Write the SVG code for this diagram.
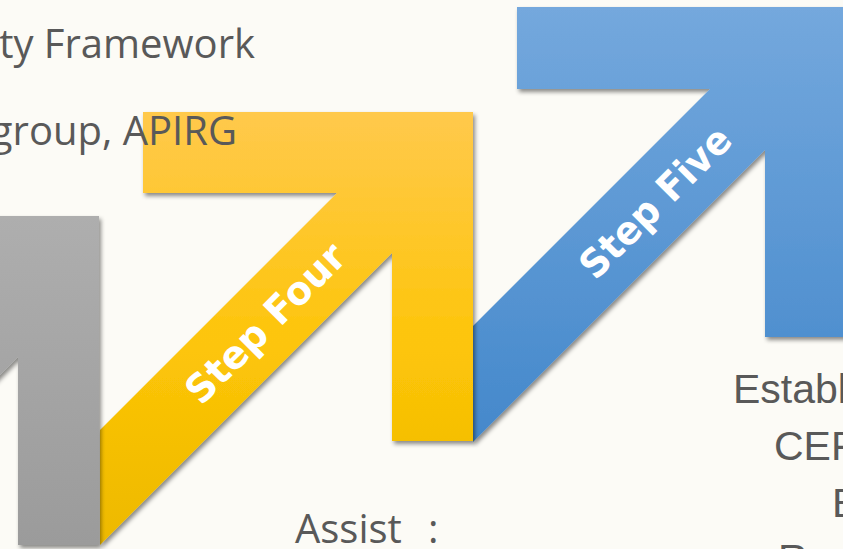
<svg xmlns="http://www.w3.org/2000/svg" width="843" height="549" viewBox="0 0 843 549">
  <defs>
    <linearGradient id="gradGray" x1="0" y1="0" x2="0" y2="1">
      <stop offset="0" stop-color="#AEAEAE"/>
      <stop offset="1" stop-color="#959595"/>
    </linearGradient>
    <linearGradient id="gradYellow" x1="0" y1="0" x2="0" y2="1">
      <stop offset="0" stop-color="#FFC94C"/>
      <stop offset="0.55" stop-color="#FDC508"/>
      <stop offset="1" stop-color="#EDB900"/>
    </linearGradient>
    <linearGradient id="gradBlue" x1="0" y1="0" x2="0" y2="1">
      <stop offset="0" stop-color="#74A8DD"/>
      <stop offset="1" stop-color="#4488CB"/>
    </linearGradient>
    <filter id="shadow" x="-10%" y="-10%" width="130%" height="130%">
      <feDropShadow dx="2" dy="3" stdDeviation="2.2" flood-color="#000" flood-opacity="0.45"/>
    </filter>
  </defs>
  <style>
    .bg { fill: #FCFBF6; }
    .step { filter: url(#shadow); }
    .label { font-family: "DejaVu Sans", "Open Sans", sans-serif; font-weight: 700; font-size: 39px; fill: #FFFFFF; text-anchor: middle; }
    .body { font-family: "Open Sans", "Noto Sans", sans-serif; font-size: 40px; fill: #595959; }
    .bodyR { font-family: "Liberation Sans", Arial, sans-serif; font-size: 41px; fill: #595959; }
  </style>

  <rect class="bg" x="0" y="0" width="843" height="549"/>

  <!-- step arrows, drawn back to front so each shadow falls on the next -->
  <g id="step-five">
    <path class="step" fill="url(#gradBlue)" d="M473,442 L473,326 L710,89 L517,89 L517,7 L860,7 L860,337 L765,337 L765,150 Z"/>
    <text class="label" transform="translate(655,202) rotate(-45)" x="0" y="14" textLength="196" lengthAdjust="spacingAndGlyphs">Step Five</text>
  </g>

  <g id="step-four">
    <path class="step" fill="url(#gradYellow)" d="M100,545 L100,430 L337,193 L143,193 L143,112 L473,112 L473,441 L392,441 L392,253 Z"/>
    <text class="label" transform="translate(265,323) rotate(-45)" x="0" y="14" textLength="208" lengthAdjust="spacingAndGlyphs">Step Four</text>
  </g>

  <g id="step-three">
    <path class="step" fill="url(#gradGray)" d="M-274,649 L-274,534 L-37,297 L-231,297 L-231,216 L99,216 L99,545 L18,545 L18,357 Z"/>
  </g>

  <!-- surrounding text -->
  <g id="text-left">
    <text class="body" x="255" y="58" text-anchor="end">ty Framework</text>
    <text class="body" x="237" y="145" text-anchor="end">group, APIRG</text>
  </g>
  <g id="text-assist">
    <text class="body" x="295" y="543">Assist</text>
    <text class="body" x="428" y="543">:</text>
  </g>
  <g id="text-right">
    <text class="bodyR" x="733" y="403">Establ</text>
    <text class="bodyR" x="774" y="460">CEF</text>
    <text class="bodyR" x="832" y="517">E</text>
    <text class="bodyR" x="778" y="573">R</text>
  </g>
</svg>
